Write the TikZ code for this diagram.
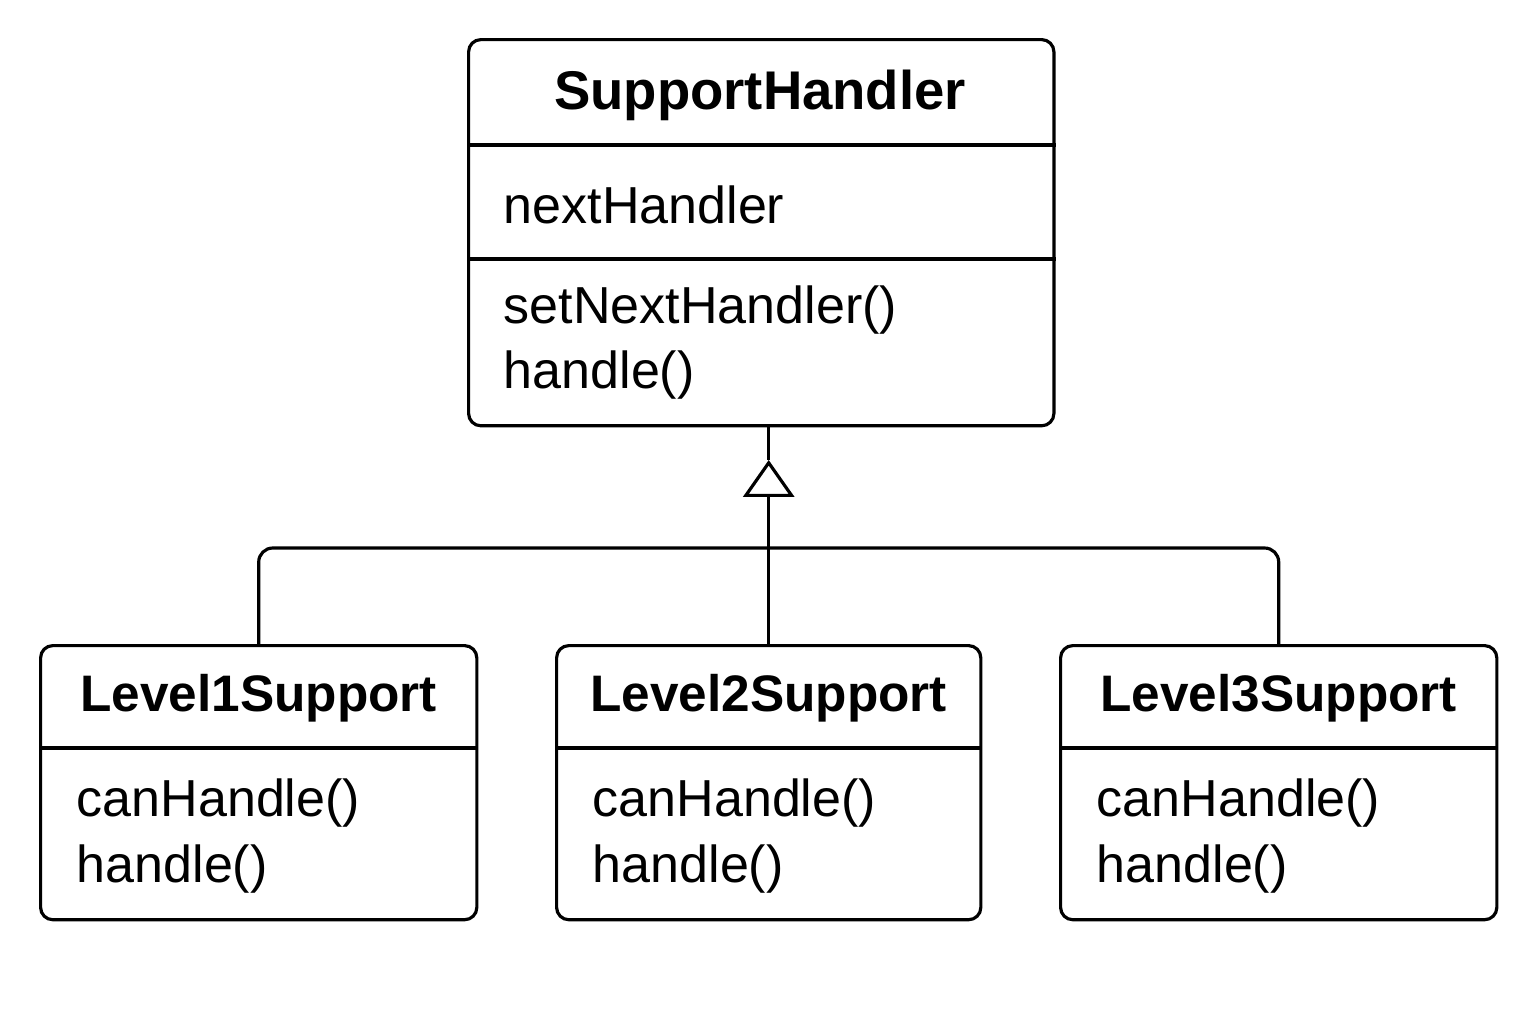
\documentclass[tikz,border=0pt]{standalone}
\usepackage{fontspec}
\setmainfont{Liberation Sans}
\usetikzlibrary{arrows.meta,positioning,calc}

\begin{document}
\begin{tikzpicture}[x=0.01cm,y=-0.01cm,
cls/.style={draw,line width=0.9pt,rounded corners=3.5pt,inner sep=0pt,anchor=north west},
clsname/.style={font=\fontsize{15.5}{18}\selectfont\bfseries,inner sep=0pt},
subname/.style={clsname,font=\fontsize{14.6}{18}\selectfont\bfseries},
member/.style={font=\fontsize{14.8}{18}\selectfont,anchor=west,inner sep=0pt},
sep/.style={line width=0.9pt},
link/.style={line width=0.9pt}]
\useasboundingbox (0,0) rectangle (1536,1024);
% Classe astratta
\node[cls,minimum width=5.85cm,minimum height=3.86cm] (base) at (467,38) {};
\draw[sep] (base.west |- 0,145) -- (base.east |- 0,145);
\draw[sep] (base.west |- 0,259) -- (base.east |- 0,259);
\node[clsname] (baseName) at (760,95) {SupportHandler};
\node[member] (baseAttr) at (503,205) {nextHandler};
\node[member] (baseSet) at (503,310) {setNextHandler()};
\node[member] (baseHandle) at (503,375) {handle()};
% Sottoclassi concrete
\foreach \i/\x/\w in {1/39/4.36,2/555/4.24,3/1059/4.36}{
  \node[cls,minimum width=\w cm,minimum height=2.74cm] (l\i) at (\x,644) {};
  \draw[sep] (l\i.west |- 0,748) -- (l\i.east |- 0,748);
  \node[subname] (l\i Name) at ($(l\i.north)+(0,54)$) {Level\i Support};
  \node[member] (l\i Can) at (\x+37,803) {canHandle()};
  \node[member] (l\i Handle) at (\x+37,869) {handle()};
}
% Ereditarieta
\coordinate (apex) at (l2.north |- 0,460);
\coordinate (bus) at (l2.north |- 0,548);
\draw[link] (apex |- base.south) -- (apex);
\draw[link,-{Triangle[open,width=14.5pt,length=10.5pt]}] (l2.north) -- (apex);
\draw[link,rounded corners=4pt] (l1.north) -- (l1.north |- bus) -- (l3.north |- bus) -- (l3.north);
\end{tikzpicture}
\end{document}
